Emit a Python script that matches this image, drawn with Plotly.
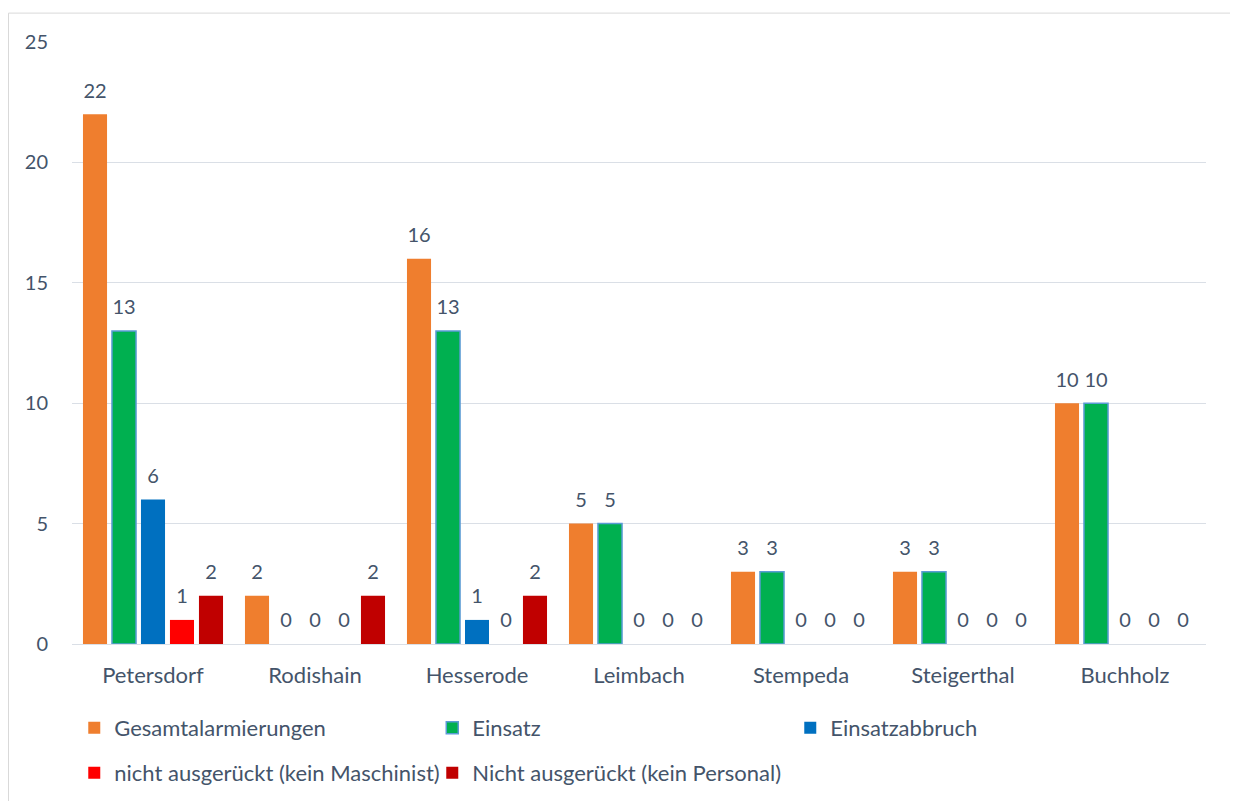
import plotly.graph_objects as go

categories = ["Petersdorf", "Rodishain", "Hesserode", "Leimbach", "Stempeda", "Steigerthal", "Buchholz"]
gesamt = [22, 2, 16, 5, 3, 3, 10]
einsatz = [13, 0, 13, 5, 3, 3, 10]
abbruch = [6, 0, 1, 0, 0, 0, 0]
kein_maschinist = [1, 0, 0, 0, 0, 0, 0]
kein_personal = [2, 2, 2, 0, 0, 0, 0]
y_ticks = [0, 5, 10, 15, 20, 25]

series = [
    ("Gesamtalarmierungen", gesamt, "#EF7E2E", None, "legend"),
    ("Einsatz", einsatz, "#00B050", "#5B9BD5", "legend"),
    ("Einsatzabbruch", abbruch, "#0070C0", None, "legend"),
    ("nicht ausgerückt (kein Maschinist)", kein_maschinist, "#FF0000", None, "legend2"),
    ("Nicht ausgerückt (kein Personal)", kein_personal, "#C00000", None, "legend2"),
]

FONT = "Lato"
TXT = "#44546A"
NUM_FS = 20
TXT_FS = 22

fig = go.Figure()
for i, (name, vals, color, line, lg) in enumerate(series):
    fig.add_trace(go.Bar(
        x=categories, y=vals, name=name, legend=lg,
        marker=dict(color=color,
                    line=dict(color=line if line else color,
                              width=[1.5 if (line and v > 0) else 0 for v in vals])),
        offsetgroup=str(i), alignmentgroup="a", hoverinfo="skip",
    ))
for i, (name, vals, color, line, lg) in enumerate(series):
    fig.add_trace(go.Scatter(
        x=categories, y=vals, mode="markers+text", text=[str(v) for v in vals],
        textposition="top center", textfont=dict(family=FONT, size=NUM_FS, color=TXT),
        marker=dict(size=17, opacity=0), showlegend=False, cliponaxis=False,
        offsetgroup=str(i), alignmentgroup="a", hoverinfo="skip",
    ))

fig.update_layout(
    width=1230, height=793,
    margin=dict(l=64, r=32, t=34, b=157, autoexpand=False),
    paper_bgcolor="white", plot_bgcolor="white",
    barmode="group", bargap=0.105, bargroupgap=0.17,
    scattermode="group", scattergap=0.105,
    font=dict(family=FONT, size=TXT_FS, color=TXT),
    xaxis=dict(showgrid=False, showline=False, ticks="", tickfont=dict(size=TXT_FS, color=TXT),
               ticklabelstandoff=16),
    yaxis=dict(range=[0, 25], tickvals=y_ticks, showgrid=True, gridcolor="#DADFE6", gridwidth=1,
               zeroline=True, zerolinecolor="#DADFE6", zerolinewidth=1, showline=False,
               tickfont=dict(size=NUM_FS, color=TXT), ticklabelstandoff=23),
    legend=dict(orientation="h", x=0.002, xanchor="left", y=-0.1395, yanchor="middle",
                entrywidth=313, entrywidthmode="pixels", font=dict(size=TXT_FS, color=TXT),
                bgcolor="rgba(0,0,0,0)", itemclick=False),
    legend2=dict(orientation="h", x=0.002, xanchor="left", y=-0.214, yanchor="middle",
                 entrywidth=313, entrywidthmode="pixels", font=dict(size=TXT_FS, color=TXT),
                 bgcolor="rgba(0,0,0,0)", itemclick=False),
    shapes=[dict(type="rect", xref="paper", yref="paper", x0=-0.0560, x1=1.028, y0=-0.28, y1=1.048,
                 line=dict(color="#D9D9D9", width=1), fillcolor="rgba(0,0,0,0)", layer="below")],
)

fig.write_html("out.html")
